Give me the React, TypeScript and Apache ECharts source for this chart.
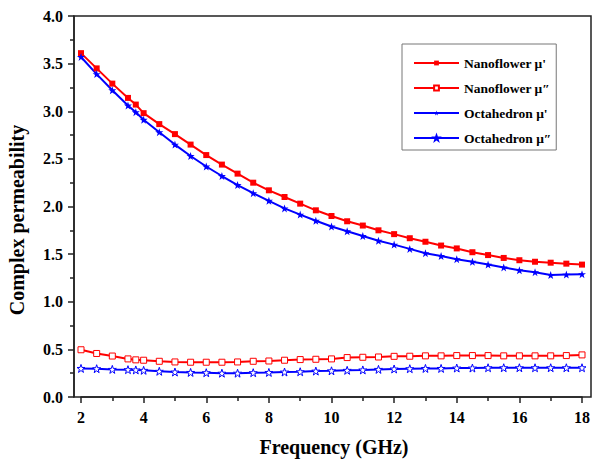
import React, { useEffect, useRef } from "react";
import * as echarts from "echarts";

const freq = [2, 2.5, 3, 3.5, 3.75, 4, 4.5, 5, 5.5, 6, 6.5, 7, 7.5, 8, 8.5, 9, 9.5, 10, 10.5, 11, 11.5, 12, 12.5, 13, 13.5, 14, 14.5, 15, 15.5, 16, 16.5, 17, 17.5, 18];

const nanoReal = [3.61, 3.45, 3.29, 3.14, 3.07, 2.98, 2.865, 2.76, 2.65, 2.54, 2.44, 2.345, 2.25, 2.17, 2.1, 2.03, 1.96, 1.9, 1.845, 1.8, 1.75, 1.71, 1.667, 1.63, 1.59, 1.56, 1.52, 1.49, 1.46, 1.436, 1.42, 1.41, 1.4, 1.39];
const nanoImag = [0.496, 0.457, 0.43, 0.4, 0.39, 0.386, 0.375, 0.368, 0.365, 0.365, 0.365, 0.368, 0.375, 0.378, 0.386, 0.393, 0.396, 0.4, 0.414, 0.417, 0.42, 0.427, 0.428, 0.432, 0.432, 0.435, 0.435, 0.435, 0.432, 0.432, 0.432, 0.432, 0.435, 0.442];
const octaReal = [3.57, 3.39, 3.22, 3.06, 2.99, 2.91, 2.78, 2.65, 2.53, 2.42, 2.32, 2.225, 2.14, 2.06, 1.98, 1.915, 1.85, 1.79, 1.74, 1.69, 1.64, 1.6, 1.555, 1.51, 1.48, 1.447, 1.42, 1.39, 1.36, 1.33, 1.31, 1.28, 1.285, 1.29];
const octaImag = [0.3, 0.297, 0.29, 0.287, 0.284, 0.28, 0.27, 0.262, 0.258, 0.255, 0.25, 0.25, 0.255, 0.258, 0.262, 0.265, 0.272, 0.275, 0.28, 0.284, 0.29, 0.294, 0.297, 0.3, 0.3, 0.304, 0.304, 0.307, 0.307, 0.307, 0.307, 0.307, 0.307, 0.307];

const seriesNames = ["Nanoflower μ'", "Nanoflower μ″", "Octahedron μ'", "Octahedron μ″"];
const xTitle = "Frequency (GHz)";
const yTitle = "Complex permeability";

const STAR = "path://M50,2 L61.8,36.2 L97.6,36.2 L68.9,57.6 L79.4,92 L50,71 L20.6,92 L31.1,57.6 L2.4,36.2 L38.2,36.2 Z";

export default function App() {
  const ref = useRef<HTMLDivElement>(null);
  useEffect(() => {
    const chart = echarts.init(ref.current!, null, { renderer: "svg" });
    const font = "'Liberation Serif', 'Times New Roman', serif";
    const mk = (arr: number[]) => freq.map((f, i) => [f, arr[i]]);
    const axisCol = "#222";
    const labelStyle = { fontFamily: font, fontWeight: "bold" as const, fontSize: 16, color: "#000" };
    chart.setOption({
      animation: false,
      backgroundColor: "#fff",
      grid: { left: 81, right: 10, top: 16, bottom: 71 },
      xAxis: {
        type: "value",
        min: 2,
        max: 18,
        interval: 2,
        axisLine: { show: true, lineStyle: { color: axisCol, width: 1.5 } },
        axisTick: { show: true, length: 6, lineStyle: { color: axisCol, width: 1.5 } },
        minorTick: { show: true, splitNumber: 2, length: 4, lineStyle: { color: axisCol, width: 1.5 } },
        splitLine: { show: false },
        axisLabel: { ...labelStyle, margin: 12 },
      },
      yAxis: {
        type: "value",
        min: 0,
        max: 4,
        interval: 0.5,
        offset: 7,
        axisLine: { show: true, lineStyle: { color: axisCol, width: 1.5 } },
        axisTick: { show: true, length: 6, lineStyle: { color: axisCol, width: 1.5 } },
        minorTick: { show: true, splitNumber: 2, length: 4, lineStyle: { color: axisCol, width: 1.5 } },
        splitLine: { show: false },
        axisLabel: { ...labelStyle, margin: 11, formatter: (v: number) => v.toFixed(1) },
      },
      legend: {
        orient: "vertical",
        left: 402,
        top: 44,
        padding: [12, 5, 5, 11],
        itemWidth: 45,
        itemHeight: 6,
        itemGap: 11,
        borderColor: "#777",
        borderWidth: 1,
        textStyle: { fontFamily: font, fontWeight: "bold", fontSize: 13.5, color: "#000" },
        data: seriesNames,
      },
      graphic: [
        {
          type: "rect",
          silent: true,
          shape: { x: 74, y: 16, width: 517, height: 381 },
          style: { fill: "none", stroke: axisCol, lineWidth: 1.5 },
        },
        {
          type: "text",
          x: 334,
          y: 447,
          style: { text: xTitle, fontFamily: font, fontWeight: "bold", fontSize: 20, fill: "#000", align: "center", verticalAlign: "middle" },
        },
        {
          type: "text",
          x: 17,
          y: 220,
          rotation: Math.PI / 2,
          style: { text: yTitle, fontFamily: font, fontWeight: "bold", fontSize: 20, fill: "#000", align: "center", verticalAlign: "middle" },
        },
      ],
      series: [
        {
          name: seriesNames[0],
          type: "line",
          data: mk(nanoReal),
          symbol: "rect",
          symbolSize: 6,
          lineStyle: { color: "#ff0000", width: 2 },
          itemStyle: { color: "#ff0000" },
        },
        {
          name: seriesNames[1],
          type: "line",
          data: mk(nanoImag),
          symbol: "rect",
          symbolSize: 6,
          lineStyle: { color: "#ff0000", width: 2 },
          itemStyle: { color: "#ffffff", borderColor: "#ff0000", borderWidth: 1 },
        },
        {
          name: seriesNames[2],
          type: "line",
          data: mk(octaReal),
          symbol: STAR,
          symbolSize: 8,
          lineStyle: { color: "#0000ff", width: 2 },
          itemStyle: { color: "#0000ff" },
        },
        {
          name: seriesNames[3],
          type: "line",
          data: mk(octaImag),
          symbol: STAR,
          symbolSize: 8,
          lineStyle: { color: "#0000ff", width: 2 },
          itemStyle: { color: "#ffffff", borderColor: "#0000ff", borderWidth: 1 },
        },
      ],
    });
    return () => chart.dispose();
  }, []);
  return <div ref={ref} style={{ position: "fixed", left: 0, top: 0, width: 593, height: 468 }} />;
}
